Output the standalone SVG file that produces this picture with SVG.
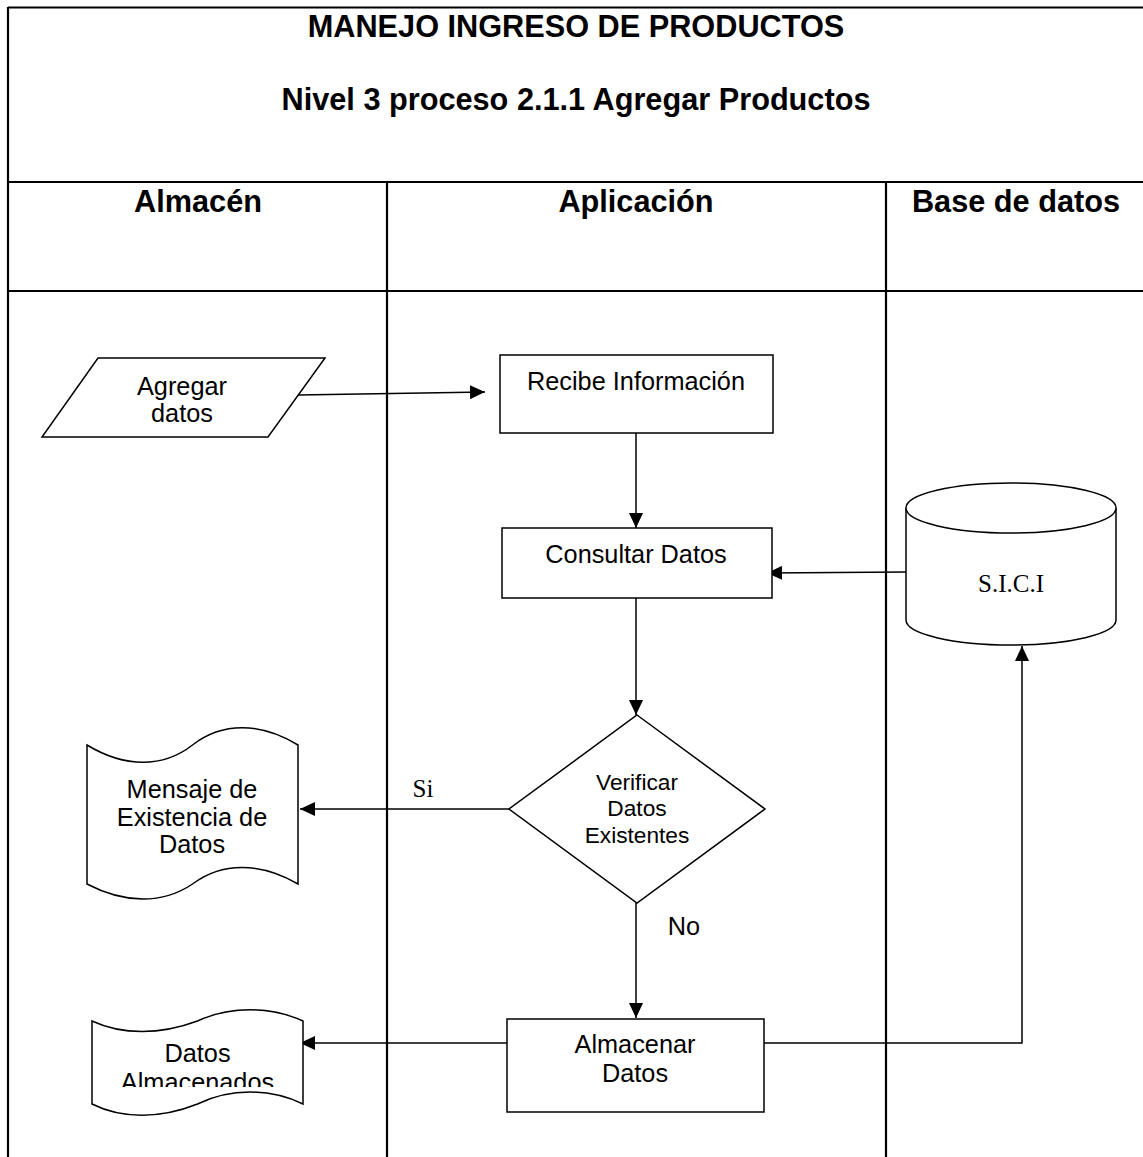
<svg xmlns="http://www.w3.org/2000/svg" width="1143" height="1157" viewBox="0 0 1143 1157">
<style>
.tbl{stroke:#000;stroke-width:2.2;fill:none}
.shape{fill:#fff;stroke:#000;stroke-width:1.5}
.conn{fill:none;stroke:#000;stroke-width:1.5}
.hd{font-family:"Liberation Sans",Arial,sans-serif;font-weight:bold;font-size:30.7px;text-anchor:middle;fill:#000}
.lbl{font-family:"Liberation Sans",Arial,sans-serif;font-size:25.3px;text-anchor:middle;fill:#000}
.sm{font-family:"Liberation Sans",Arial,sans-serif;font-size:22.7px;text-anchor:middle;fill:#000}
.serif{font-family:"Liberation Serif","Times New Roman",serif;font-size:25px;text-anchor:middle;fill:#000}
</style>
<defs>
<marker id="arr" markerUnits="userSpaceOnUse" markerWidth="15" markerHeight="14" refX="15" refY="7" orient="auto">
<path d="M0,0 L15,7 L0,14 z" fill="#000"/>
</marker>
<clipPath id="clipDA"><rect x="80" y="1000" width="240" height="87"/></clipPath>
</defs>
<rect width="1143" height="1157" fill="#fff"/>
<g id="table">
<line class="tbl" x1="8" y1="7.5" x2="1143" y2="7.5"/>
<line class="tbl" x1="8" y1="7" x2="8" y2="1157"/>
<line class="tbl" x1="8" y1="182" x2="1143" y2="182"/>
<line class="tbl" x1="8" y1="291" x2="1143" y2="291"/>
<line class="tbl" x1="387" y1="182" x2="387" y2="1157"/>
<line class="tbl" x1="886" y1="182" x2="886" y2="1157"/>
<text class="hd" x="576" y="37">MANEJO INGRESO DE PRODUCTOS</text>
<text class="hd" x="576" y="110">Nivel 3 proceso 2.1.1 Agregar Productos</text>
<text class="hd" x="198" y="212">Almacén</text>
<text class="hd" x="636" y="212">Aplicación</text>
<text class="hd" x="1016" y="212">Base de datos</text>
</g>
<g id="connectors">
<line class="conn" x1="298" y1="395" x2="485" y2="392" marker-end="url(#arr)"/>
<line class="conn" x1="636" y1="433" x2="636" y2="528" marker-end="url(#arr)"/>
<line class="conn" x1="906" y1="572" x2="767" y2="573" marker-end="url(#arr)"/>
<line class="conn" x1="636" y1="598" x2="636" y2="715" marker-end="url(#arr)"/>
<line class="conn" x1="509" y1="809" x2="300" y2="809" marker-end="url(#arr)"/>
<line class="conn" x1="636" y1="903" x2="636" y2="1018" marker-end="url(#arr)"/>
<line class="conn" x1="507" y1="1043" x2="300" y2="1043" marker-end="url(#arr)"/>
<polyline class="conn" points="764,1043 1022,1043 1022,646" marker-end="url(#arr)"/>
<text class="serif" x="423" y="797">Si</text>
<text class="lbl" x="684" y="935">No</text>
</g>
<g id="agregar-datos">
<polygon class="shape" points="98,358 325,358 268,437 42,437"/>
<text class="lbl" x="182" y="395">Agregar</text>
<text class="lbl" x="182" y="422">datos</text>
</g>
<g id="recibe-informacion">
<rect class="shape" x="500" y="355" width="273" height="78"/>
<text class="lbl" x="636" y="390">Recibe Información</text>
</g>
<g id="consultar-datos">
<rect class="shape" x="502" y="528" width="270" height="70"/>
<text class="lbl" x="636" y="563">Consultar Datos</text>
</g>
<g id="sici">
<path class="shape" d="M906,508 L906,620 A105,25 0 0 0 1116,620 L1116,508 A105,25 0 0 0 906,508 Z"/>
<path class="shape" d="M906,508 A105,25 0 0 0 1116,508" fill="none"/>
<text class="serif" x="1011" y="592">S.I.C.I</text>
</g>
<g id="verificar">
<polygon class="shape" points="637,715 765,809 637,903 509,809"/>
<text class="sm" x="637" y="790">Verificar</text>
<text class="sm" x="637" y="816">Datos</text>
<text class="sm" x="637" y="843">Existentes</text>
</g>
<g id="mensaje">
<path class="shape" d="M87,745 C125,768 163,768 192.5,745 C222,722 260,722 298,745 L298,884 C260,862 222,862 192.5,884 C163,904 125,904 87,884 Z"/>
<text class="lbl" x="192" y="798">Mensaje de</text>
<text class="lbl" x="192" y="826">Existencia de</text>
<text class="lbl" x="192" y="853">Datos</text>
</g>
<g id="almacenar">
<rect class="shape" x="507" y="1019" width="257" height="93"/>
<text class="lbl" x="635" y="1053">Almacenar</text>
<text class="lbl" x="635" y="1082">Datos</text>
</g>
<g id="datos-almacenados">
<path class="shape" d="M92,1021 C122,1035 160,1035 197.5,1021 C230,1006 270,1006 303,1021 L303,1104 C270,1088 230,1088 197.5,1104 C160,1119 122,1119 92,1104 Z"/>
<g clip-path="url(#clipDA)">
<text class="lbl" x="197.5" y="1062">Datos</text>
<text class="lbl" x="197.5" y="1091">Almacenados</text>
</g>
</g>
</svg>
